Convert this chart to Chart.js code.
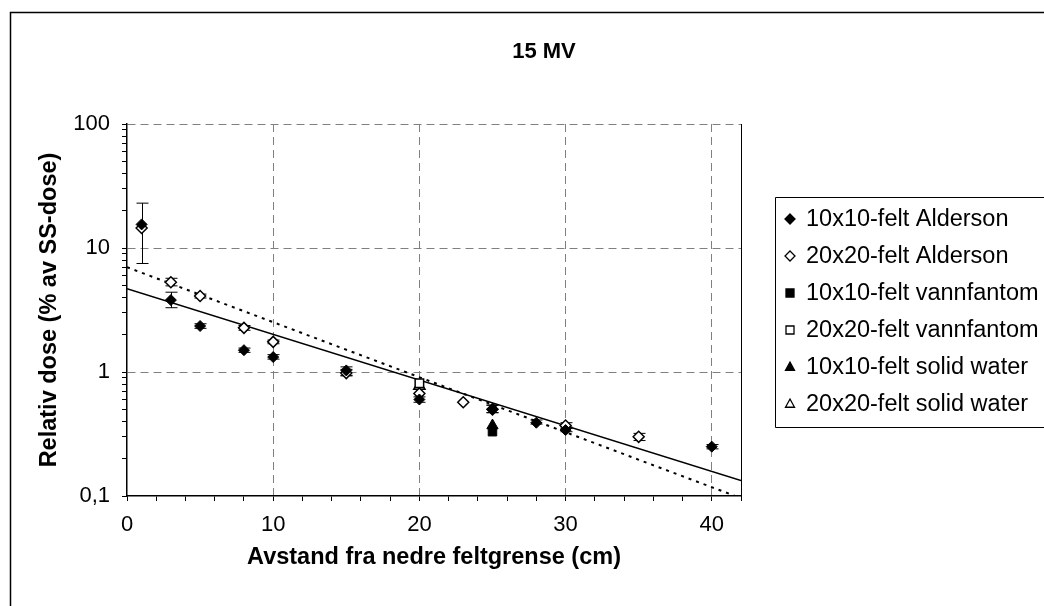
<!DOCTYPE html>
<html>
<head>
<meta charset="utf-8">
<script src="https://cdn.jsdelivr.net/npm/chart.js@4"></script>
<style>
  html, body { margin: 0; padding: 0; background: #fff; overflow: hidden; }
  #wrap { width: 1044px; height: 606px; overflow: hidden; position: relative; }
  #grafico { position: absolute; left: 0; top: 0; }
</style>
</head>
<body>
<div id="wrap"><canvas id="grafico" width="1078" height="606"></canvas></div>
<script>
// serienavn (legend)
const fieldLabels = [
    '10x10-felt Alderson',
    '20x20-felt Alderson',
    '10x10-felt vannfantom',
    '20x20-felt vannfantom',
    '10x10-felt solid water',
    '20x20-felt solid water'
];

// 10x10 Alderson
const ald10X  = [1, 3, 5, 8, 10, 15, 20, 25, 28, 30, 40];
const ald10Y  = [15.5, 3.8, 2.35, 1.5, 1.32, 1.03, 0.6, 0.5, 0.39, 0.34, 0.25];
const ald10Lo = [7.5, 3.3, 2.25, 1.44, 1.27, 0.94, 0.57, 0.47, 0.38, 0.33, 0.24];
const ald10Hi = [23, 4.4, 2.45, 1.56, 1.38, 1.1, 0.63, 0.54, 0.41, 0.36, 0.26];

// 20x20 Alderson
const ald20X  = [1, 3, 5, 8, 10, 15, 20, 23, 25, 30, 35];
const ald20Y  = [14.5, 5.3, 4.1, 2.27, 1.75, 0.98, 0.67, 0.57, 0.5, 0.37, 0.3];
const ald20Lo = [null, 4.95, 3.95, 2.17, 1.69, 0.93, null, null, 0.47, 0.35, 0.28];
const ald20Hi = [null, 5.7, 4.25, 2.37, 1.81, 1.05, null, null, 0.54, 0.39, 0.32];

// vannfantom og solid water
const vann10X = [25];   const vann10Y = [0.33];
const vann20X = [20];   const vann20Y = [0.81];
const solid10X = [25];  const solid10Y = [0.37];
const solid20X = [20];  const solid20Y = [0.77];

// trendlinjer (eksponentiell)
const trend10X = [0, 42];  const trend10Y = [4.7, 0.133];
const trend20X = [0, 42];  const trend20Y = [7.0, 0.096];

// akser
const xTickValues = [0, 2, 4, 6, 8, 10, 12, 14, 16, 18, 20, 22, 24, 26, 28, 30, 32, 34, 36, 38, 40, 42];
const xTickLabels = {0: '0', 10: '10', 20: '20', 30: '30', 40: '40'};
const yTickValues = [0.1, 0.2, 0.3, 0.4, 0.5, 0.6, 0.7, 0.8, 0.9,
                     1, 2, 3, 4, 5, 6, 7, 8, 9,
                     10, 20, 30, 40, 50, 60, 70, 80, 90, 100];
const yTickLabels = {'0.1': '0,1', '1': '1', '10': '10', '100': '100'};

const FONT = '"Liberation Sans", Arial, sans-serif';
const GRID = '#808080';

const pts = (xs, ys) => xs.map((x, i) => ({x: x, y: ys[i]}));

const marker = (label, xs, ys, style, filled, r, extra) => Object.assign({
    label: label,
    data: pts(xs, ys),
    pointStyle: style,
    pointRadius: r,
    pointHoverRadius: r,
    pointBackgroundColor: filled ? '#000' : '#fff',
    pointBorderColor: '#000',
    pointBorderWidth: filled ? 1 : 1.5,
    showLine: false,
    filled: filled
}, extra || {});

const trend = (xs, ys, dash) => ({
    label: 'trend',
    isTrend: true,
    data: pts(xs, ys),
    showLine: true,
    borderColor: '#000',
    borderWidth: dash ? 2 : 1.5,
    borderDash: dash || [],
    pointRadius: 0,
    pointHoverRadius: 0,
    fill: false
});

// markør i legend
const drawMarker = (ctx, style, filled, x, y, r) => {
    ctx.save();
    ctx.beginPath();
    if (style === 'rectRot') {
        ctx.moveTo(x, y - r); ctx.lineTo(x + r, y); ctx.lineTo(x, y + r); ctx.lineTo(x - r, y);
    } else if (style === 'rect') {
        ctx.rect(x - r * 0.8, y - r * 0.8, r * 1.6, r * 1.6);
    } else {
        ctx.moveTo(x, y - r); ctx.lineTo(x + r * 0.9, y + r * 0.65); ctx.lineTo(x - r * 0.9, y + r * 0.65);
    }
    ctx.closePath();
    ctx.fillStyle = filled ? '#000' : '#fff';
    ctx.fill();
    ctx.lineWidth = 1.3;
    ctx.strokeStyle = '#000';
    ctx.stroke();
    ctx.restore();
};

const framePlugin = {
    id: 'frame',
    beforeDraw(chart) {
        const ctx = chart.ctx;
        ctx.save();
        ctx.fillStyle = '#fff';
        ctx.fillRect(0, 0, chart.width, chart.height);
        ctx.strokeStyle = '#000';
        ctx.lineWidth = 1.5;
        ctx.beginPath();
        ctx.moveTo(10.5, chart.height + 5);
        ctx.lineTo(10.5, 12.5);
        ctx.lineTo(chart.width + 5, 12.5);
        ctx.stroke();
        ctx.restore();
    }
};

const errorBarPlugin = {
    id: 'errbars',
    beforeDatasetsDraw(chart) {
        const ctx = chart.ctx;
        const xs = chart.scales.x, ys = chart.scales.y;
        ctx.save();
        ctx.strokeStyle = '#000';
        ctx.lineWidth = 1;
        chart.data.datasets.forEach(ds => {
            if (!ds.errLo) return;
            ds.data.forEach((p, i) => {
                if (ds.errLo[i] == null) return;
                const px = Math.round(xs.getPixelForValue(p.x)) + 0.5;
                const lo = ys.getPixelForValue(ds.errLo[i]);
                const hi = ys.getPixelForValue(ds.errHi[i]);
                ctx.beginPath();
                ctx.moveTo(px, lo); ctx.lineTo(px, hi);
                ctx.moveTo(px - 6, lo); ctx.lineTo(px + 6, lo);
                ctx.moveTo(px - 6, hi); ctx.lineTo(px + 6, hi);
                ctx.stroke();
            });
        });
        ctx.restore();
    }
};

const legendPlugin = {
    id: 'boxLegend',
    afterDraw(chart) {
        const ctx = chart.ctx;
        const left = 775, top = 197, bottom = 427;
        ctx.save();
        ctx.strokeStyle = '#000';
        ctx.lineWidth = 1;
        ctx.beginPath();
        ctx.moveTo(chart.width + 5, top + 0.5);
        ctx.lineTo(left + 0.5, top + 0.5);
        ctx.lineTo(left + 0.5, bottom + 0.5);
        ctx.lineTo(chart.width + 5, bottom + 0.5);
        ctx.stroke();
        ctx.font = '23.5px ' + FONT;
        ctx.fillStyle = '#000';
        ctx.textBaseline = 'middle';
        const items = chart.data.datasets.filter(ds => !ds.isTrend);
        items.forEach((ds, i) => {
            const y = 219 + i * 37;
            drawMarker(ctx, ds.pointStyle, ds.filled, 790, y, 5);
            ctx.fillText(ds.label, 806, y + 1);
        });
        ctx.restore();
    }
};

const ctx = document.getElementById('grafico').getContext('2d');

const grafico = new Chart(ctx, {
    type: 'scatter',
    data: {
        datasets: [
            marker(fieldLabels[0], ald10X, ald10Y, 'rectRot', true, 5.5, {errLo: ald10Lo, errHi: ald10Hi}),
            marker(fieldLabels[1], ald20X, ald20Y, 'rectRot', false, 5.5, {errLo: ald20Lo, errHi: ald20Hi}),
            marker(fieldLabels[2], vann10X, vann10Y, 'rect', true, 6),
            marker(fieldLabels[3], vann20X, vann20Y, 'rect', false, 6),
            marker(fieldLabels[4], solid10X, solid10Y, 'triangle', true, 6.5),
            marker(fieldLabels[5], solid20X, solid20Y, 'triangle', false, 6.5),
            trend(trend10X, trend10Y, null),
            trend(trend20X, trend20Y, [3, 5])
        ]
    },
    options: {
        responsive: false,
        animation: false,
        events: [],
        layout: { padding: { left: 10, top: 12, right: 0, bottom: 0 } },
        plugins: {
            legend: { display: false },
            tooltip: { enabled: false },
            title: {
                display: true,
                text: '15 MV',
                color: '#000',
                font: { family: FONT, size: 22, weight: 'bold' },
                padding: { top: 26.8, bottom: 58.8 }
            }
        },
        scales: {
            x: {
                type: 'linear',
                position: 'bottom',
                min: 0,
                max: 42,
                afterBuildTicks: (s) => { s.ticks = xTickValues.map(v => ({value: v})); },
                afterFit: (s) => { s.height = 110; },
                ticks: {
                    autoSkip: false,
                    maxRotation: 0,
                    padding: 11,
                    color: '#000',
                    font: { family: FONT, size: 22 },
                    callback: (v) => (xTickLabels[v] !== undefined ? xTickLabels[v] : '')
                },
                grid: {
                    color: (c) => (c.tick && c.tick.value % 10 === 0 && c.tick.value > 0 && c.tick.value < 42 ? GRID : 'rgba(0,0,0,0)'),
                    tickColor: '#000',
                    tickLength: 5,
                    lineWidth: 1
                },
                border: { color: '#000', width: 1.5, dash: [8, 5] },
                title: {
                    display: true,
                    text: 'Avstand fra nedre feltgrense (cm)',
                    color: '#000',
                    font: { family: FONT, size: 23.5, weight: 'bold' },
                    padding: { top: 0, bottom: 33.9 }
                }
            },
            y: {
                type: 'logarithmic',
                position: 'left',
                min: 0.1,
                max: 100,
                afterBuildTicks: (s) => { s.ticks = yTickValues.map(v => ({value: v})); },
                afterFit: (s) => { s.width = 117; },
                ticks: {
                    autoSkip: false,
                    padding: 12,
                    color: '#000',
                    font: { family: FONT, size: 22 },
                    callback: (v) => (yTickLabels[String(v)] !== undefined ? yTickLabels[String(v)] : '')
                },
                grid: {
                    color: (c) => (c.tick && [1, 10, 100].includes(c.tick.value) ? GRID : 'rgba(0,0,0,0)'),
                    tickColor: '#000',
                    tickLength: 5,
                    lineWidth: 1
                },
                border: { color: '#000', width: 1.5, dash: [8, 5] },
                title: {
                    display: true,
                    text: 'Relativ dose (% av SS-dose)',
                    color: '#000',
                    font: { family: FONT, size: 23.5, weight: 'bold' },
                    padding: { top: 25.9, bottom: 0 }
                }
            },
            y2: {
                type: 'linear',
                position: 'right',
                afterFit: (s) => { s.width = 1078 - 741; },
                ticks: { display: false },
                grid: { display: false, drawTicks: false },
                border: { display: true, color: '#000', width: 1 }
            }
        }
    },
    plugins: [framePlugin, errorBarPlugin, legendPlugin]
});
</script>
</body>
</html>
